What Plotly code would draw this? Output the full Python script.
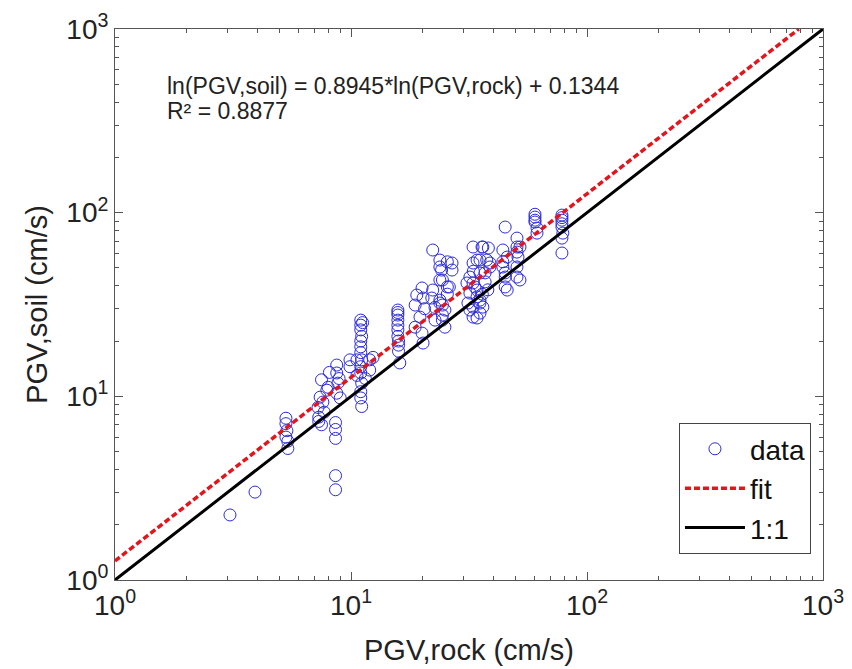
import plotly.graph_objects as go

# PGV on rock (x) and PGV on soil (y), cm/s
rock_pgv = [
    3.07, 3.92,
    5.3, 5.3, 5.35, 5.3, 5.4, 5.4,
    7.5, 7.9, 7.4, 7.25, 7.3, 7.5, 7.7, 8.1, 8.0, 7.3, 7.6,
    8.7, 8.7, 8.8, 8.7, 9.0, 8.6, 8.6, 8.6, 8.6, 8.6, 8.9,
    11, 11, 11, 11.1, 11, 11, 11.1, 11, 11, 11.1, 11, 11, 11.1, 10.6, 12, 12.4, 9.9, 9.9, 11.5, 10.6, 12, 11.2, 11,
    15.8, 15.8, 15.8, 15.8, 15.8, 15.8, 15.9, 15.9, 16.1, 15.8, 15.9,
    19.0, 18.7, 20, 20.2, 19.6, 18.7, 20, 20.2, 20.5,
    22.2, 23.8, 26.8, 24.2, 26.8, 23.8, 26.1, 22.2, 22, 23.8, 25, 24.4, 22.7, 25, 23.8, 25.6, 24.4, 25.6, 23.8, 24.4, 24.4, 22.7, 25.6,
    32.9, 35.9, 38.2, 34.2, 37.6, 38.8, 31.9, 35.2, 31, 33.5, 31.9, 34.2, 35.2, 31.9, 35.2, 32.9, 36.2, 31.3, 36.2, 32.9, 35.2, 38.8, 32.9, 34.2, 35.2, 32.9, 34.2, 37, 38, 36, 33, 37,
    45, 44, 45.9, 44, 45, 45, 45.9, 50.5, 50.5, 51, 50.5, 50.5, 52, 52, 45, 50.5, 44,
    60.2, 60.2, 60.2, 61.4, 61.4, 60.2,
    78.3, 78.3, 78.3, 79, 78.3, 78.3, 78.3, 78.3,
]
soil_pgv = [
    2.26, 3.01,
    7.6, 7.1, 6.5, 6.0, 5.7, 5.2,
    12.3, 10.8, 9.9, 8.7, 7.7, 7.0, 8.2, 13.5, 11.2, 7.3, 9.3,
    14.8, 13.4, 11.8, 10.4, 9.8, 7.2, 6.6, 5.9, 3.7, 3.1, 12.5,
    26, 24.4, 23, 21.2, 18.6, 17.3, 15.8, 14.5, 13.4, 11.8, 10.6, 9.8, 8.8, 15.8, 15.8, 16.3, 15.8, 14.5, 12.5, 13, 13.9, 25.2, 20,
    29.5, 27.7, 26, 24.4, 23, 21.2, 19, 17.6, 15.2, 28.6, 20,
    35.6, 31.4, 38.9, 34.3, 27, 23.8, 22.1, 19.5, 30,
    62.6, 55.2, 53.2, 48.7, 48.7, 43, 39.4, 37.9, 34.3, 32.2, 29.5, 26, 26, 23.8, 50.6, 54, 43, 39.4, 33.4, 31.4, 27.7, 30.5, 36,
    65, 65, 64.2, 55.2, 55.2, 50.6, 44.6, 46.9, 41.4, 39.4, 36.5, 34.8, 32.2, 29.5, 28.4, 27, 30.6, 32.2, 65, 53.2, 55.2, 53.2, 41.4, 37.9, 33.4, 30.6, 26.7, 42, 38, 36, 48, 47,
    83.5, 62.6, 57.3, 50.6, 44.6, 39.4, 37.9, 72.7, 65, 57.3, 50.6, 44.6, 65, 43, 47, 61, 54,
    98, 94.6, 88.9, 82.4, 77.4, 91,
    97, 91, 83.5, 77.4, 72.7, 60.3, 94, 87,
]

# fitted line and 1:1 line, as drawn in the reference
fit_x = [1, 790]
fit_y = [1.27, 1000]
ref_x = [1, 1000]
ref_y = [1, 1000]

major_vals = [1, 10, 100, 1000]
major_text = ["10<sup>0</sup>", "10<sup>1</sup>", "10<sup>2</sup>", "10<sup>3</sup>"]
minor_vals = [2, 3, 4, 5, 6, 7, 8, 9, 20, 30, 40, 50, 60, 70, 80, 90,
              200, 300, 400, 500, 600, 700, 800, 900]

eq_line1 = "ln(PGV,soil) = 0.8945*ln(PGV,rock) + 0.1344"
eq_line2 = "R² = 0.8877"

FONT = "Liberation Sans, Arial, sans-serif"

fig = go.Figure()
fig.add_trace(go.Scatter(
    x=rock_pgv, y=soil_pgv, mode="markers", name="data",
    marker=dict(symbol="circle-open", size=12, color="#2b2bdc", line=dict(width=1)),
))
fig.add_trace(go.Scatter(
    x=fit_x, y=fit_y, mode="lines", name="fit",
    line=dict(color="#e3141c", width=3.5, dash="6px,3px"),
))
fig.add_trace(go.Scatter(
    x=ref_x, y=ref_y, mode="lines", name="1:1",
    line=dict(color="black", width=3),
))

def axis(title, standoff):
    return dict(
        type="log", range=[0, 3], automargin=False,
        tickmode="array", tickvals=major_vals, ticktext=major_text,
        ticks="inside", ticklen=8, tickcolor="#555", tickwidth=1,
        showline=True, linecolor="#555", linewidth=1, mirror="ticks",
        showgrid=False, zeroline=False,
        tickfont=dict(size=28, color="#222", family=FONT),
        minor=dict(tickmode="array", tickvals=minor_vals, ticks="inside",
                   ticklen=4, tickcolor="#555", showgrid=False),
        title=dict(text=title, font=dict(size=29, color="#222", family=FONT),
                   standoff=standoff),
    )

fig.update_layout(
    width=852, height=669,
    margin=dict(l=115, r=29, t=29, b=89, autoexpand=False),
    paper_bgcolor="white", plot_bgcolor="white",
    font=dict(family=FONT, color="#222"),
    xaxis=axis("PGV,rock (cm/s)", 20),
    yaxis=axis("PGV,soil (cm/s)", 10),
    showlegend=True,
    legend=dict(
        x=0.983, y=0.047, xanchor="right", yanchor="bottom",
        bgcolor="white", bordercolor="#444", borderwidth=1,
        font=dict(size=28, color="#111", family=FONT),
        itemwidth=60,
    ),
    annotations=[
        dict(xref="paper", yref="paper", x=0.07, y=0.8966,
             xanchor="left", yanchor="middle", showarrow=False,
             text=eq_line1, font=dict(size=23, color="#222", family=FONT)),
        dict(xref="paper", yref="paper", x=0.07, y=0.851,
             xanchor="left", yanchor="middle", showarrow=False,
             text=eq_line2, font=dict(size=23, color="#222", family=FONT)),
    ],
)

fig.write_html(
    "out.html",
    config={"displayModeBar": False},
    post_script="document.body.style.margin='0';document.body.style.overflow='hidden';",
)
